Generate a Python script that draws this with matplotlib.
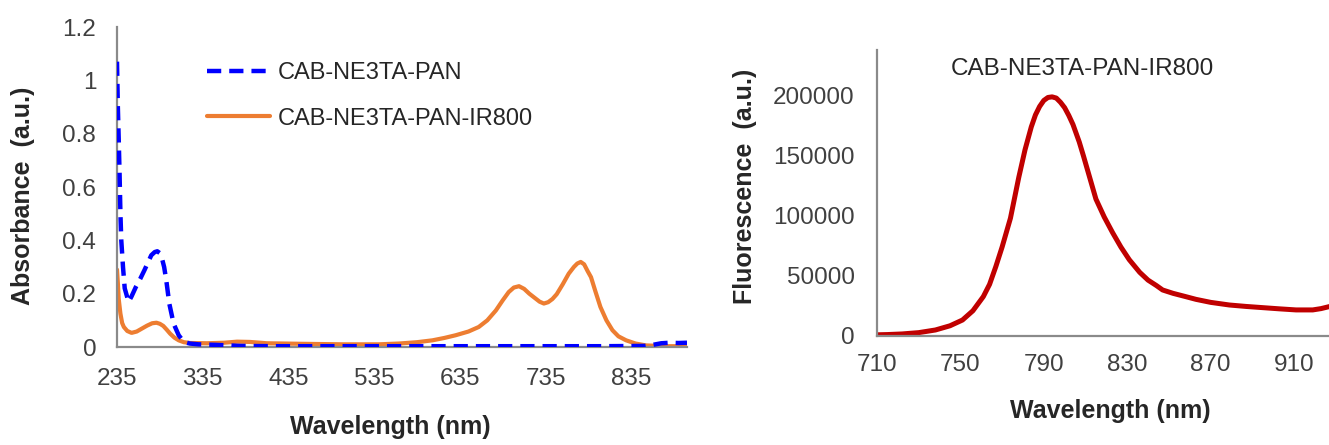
import matplotlib
matplotlib.use("Agg")
import matplotlib.pyplot as plt

plt.rcParams['font.family'] = ['Liberation Sans', 'DejaVu Sans']

# ---- Absorbance data ----
wl_pan = [235, 236, 237, 238, 239, 240, 242, 244, 248.5, 252, 257, 262, 267, 275, 279, 282,
          285, 287, 290, 292.5, 296, 301, 307, 313, 320, 330, 350, 380, 420, 500, 600, 700, 800,
          850, 860, 870, 880, 890, 900]
abs_pan = [1.07, 0.90, 0.78, 0.65, 0.50, 0.40, 0.30, 0.22, 0.169, 0.19, 0.225, 0.255, 0.288, 0.344, 0.356, 0.359,
           0.352, 0.338, 0.30, 0.25, 0.163, 0.088, 0.044, 0.019, 0.013, 0.010, 0.008, 0.004, 0.003, 0.003, 0.003, 0.003, 0.003,
           0.004, 0.008, 0.014, 0.016, 0.015, 0.016]

wl_ir = [235, 236, 237, 239, 241, 243, 247, 252, 258, 264, 270, 276, 281, 285, 289, 293, 297,
         302, 307, 313, 320, 340, 360, 375, 390, 410, 450, 500, 540, 564, 585, 603, 617, 630,
         645, 657, 667, 677, 685, 692, 698, 704, 710, 716, 722, 728, 733, 738, 743, 748, 755,
         762, 768, 772, 776, 780, 784, 788, 793, 799, 806, 813, 820, 829, 840, 852, 875, 900]
abs_ir = [0.29, 0.24, 0.18, 0.125, 0.09, 0.075, 0.06, 0.053, 0.058, 0.069, 0.08, 0.089, 0.091, 0.087, 0.079, 0.065, 0.05,
          0.035, 0.025, 0.018, 0.015, 0.014, 0.016, 0.020, 0.019, 0.014, 0.012, 0.010, 0.010, 0.013, 0.018, 0.025, 0.034, 0.044,
          0.058, 0.075, 0.10, 0.137, 0.175, 0.206, 0.223, 0.228, 0.218, 0.20, 0.185, 0.17, 0.163, 0.168, 0.18, 0.198, 0.235,
          0.275, 0.30, 0.313, 0.319, 0.31, 0.285, 0.262, 0.21, 0.15, 0.10, 0.063, 0.04, 0.025, 0.013, 0.006, 0.003, 0.003]

abs_xticks = [235, 335, 435, 535, 635, 735, 835]
abs_yticks = [0, 0.2, 0.4, 0.6, 0.8, 1, 1.2]
abs_yticklabels = ['0', '0.2', '0.4', '0.6', '0.8', '1', '1.2']

# ---- Fluorescence data ----
wl_fl = [710, 715, 722, 730, 738, 745, 751, 756, 761, 764, 767, 770, 774, 776, 778, 781, 784, 786, 788,
         790, 792, 794, 796, 798, 800, 802, 804, 807, 809, 811, 813, 815, 819, 823, 827, 831, 836, 840, 844, 847, 852,
         858, 863, 870, 879, 887, 895, 903, 911, 919, 923, 927]
fl = [1000, 1200, 1700, 2800, 5000, 8500, 13300, 21000, 32800, 43000, 57800, 74000, 98000, 115000, 132000, 155000, 174000, 184000, 191000,
      196000, 198500, 199000, 198000, 194500, 190000, 183500, 176000, 161500, 150000, 138000, 126000, 114000, 99000, 86000, 74000, 63500, 53000, 46500, 42000, 38300, 35500,
      32800, 30500, 28000, 25800, 24600, 23600, 22600, 21700, 21700, 22800, 24500]

fl_xticks = [710, 750, 790, 830, 870, 910]
fl_yticks = [0, 50000, 100000, 150000, 200000]

W, H = 1329, 445
fig = plt.figure(figsize=(W / 100, H / 100), dpi=100)

tick_color = '#404040'
label_color = '#262626'
spine_color = '#8a8a8a'

# ---- Left: absorbance ----
ax1 = fig.add_axes([117 / W, 1 - 347 / H, (687 - 117) / W, (347 - 27) / H])
ax1.plot(wl_ir, abs_ir, color='#ED7D31', lw=3.0, solid_capstyle='round', solid_joinstyle='round',
         label='CAB-NE3TA-PAN-IR800', zorder=2)
ax1.plot(wl_pan, abs_pan, color='#0000FF', lw=3.2, linestyle=(0, (3.2, 1.8)),
         label='CAB-NE3TA-PAN', zorder=3)
ax1.set_xlim(235, 900)
ax1.set_ylim(0, 1.2)
ax1.set_xticks(abs_xticks)
ax1.set_yticks(abs_yticks)
ax1.set_yticklabels(abs_yticklabels)

handles, labels = ax1.get_legend_handles_labels()
leg = ax1.legend(handles[::-1], labels[::-1], loc='upper left',
                 bbox_to_anchor=(207 / W, 1 - 62 / H), bbox_transform=fig.transFigure,
                 frameon=False, fontsize=17, handlelength=2.65, handletextpad=0.35,
                 labelspacing=1.0, borderpad=0, borderaxespad=0)
for t in leg.get_texts():
    t.set_color(label_color)

# ---- Right: fluorescence ----
ax2 = fig.add_axes([877 / W, 1 - 336 / H, (W - 877) / W, (336 - 50) / H])
ax2.plot(wl_fl, fl, color='#C00000', lw=3.6, solid_capstyle='round', solid_joinstyle='round')
ax2.set_xlim(710, 926.8)
ax2.set_ylim(0, 238000)
ax2.set_xticks(fl_xticks)
ax2.set_yticks(fl_yticks)
ax2.text(0.455, 0.935, 'CAB-NE3TA-PAN-IR800', transform=ax2.transAxes, ha='center', va='center',
         fontsize=17.5, color=label_color)

for ax, xpad, ypad in ((ax1, 15, 15), (ax2, 13, 16)):
    for side in ('top', 'right'):
        ax.spines[side].set_visible(False)
    for side in ('left', 'bottom'):
        ax.spines[side].set_color(spine_color)
        ax.spines[side].set_linewidth(1.6)
    ax.tick_params(axis='x', length=0, pad=xpad, labelsize=17.5, labelcolor=tick_color)
    ax.tick_params(axis='y', length=0, pad=ypad, labelsize=17.5, labelcolor=tick_color)
    ax.set_facecolor('none')

# axis titles
fig.text(390 / W, 1 - 427 / H, 'Wavelength (nm)', ha='center', va='center', fontsize=18,
         fontweight='bold', color=label_color)
fig.text(23 / W, 1 - 196 / H, 'Absorbance  (a.u.)', ha='center', va='center', rotation=90,
         fontsize=18, fontweight='bold', color=label_color)
fig.text(1110 / W, 1 - 411 / H, 'Wavelength (nm)', ha='center', va='center', fontsize=18,
         fontweight='bold', color=label_color)
fig.text(745 / W, 1 - 186 / H, 'Fluorescence  (a.u.)', ha='center', va='center', rotation=90,
         fontsize=18, fontweight='bold', color=label_color)

fig.savefig('out.png', dpi=100)
